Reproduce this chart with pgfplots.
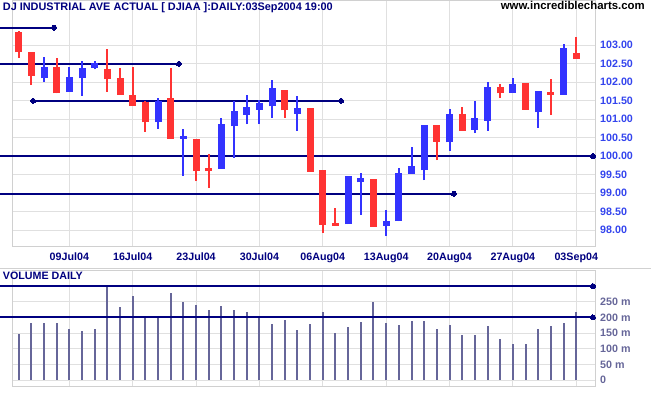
\documentclass[border=0pt]{standalone}
\usepackage{pgfplots}
\pgfplotsset{compat=1.18}
\usepackage{pgfplotstable}
\usepackage{fontspec}
\setmainfont{Liberation Sans}
\definecolor{cred}{HTML}{FF3333}
\definecolor{cblue}{HTML}{3333FF}
\definecolor{navy}{HTML}{000080}
\definecolor{vcol}{HTML}{666699}
\definecolor{gridc}{HTML}{E0E0E0}
\definecolor{edgec}{HTML}{D0D0D0}
\definecolor{plab}{HTML}{3344EE}
\newcommand{\lf}{\bfseries\fontsize{10.7}{12}\selectfont}

% up (blue) candles: trading-day index n (0 = 02Jul04)
\pgfplotstableread{
n  o      h      l      c
2  102.10 102.68 102.01 102.41
4  101.74 102.41 101.74 102.14
5  102.10 102.57 101.63 102.39
6  102.39 102.57 102.34 102.50
11 100.91 101.58 100.73 101.49
13 100.46 100.73 99.47  100.53
16 99.65  101.02 99.65  100.87
17 100.80 101.49 99.95  101.22
18 101.11 101.65 100.86 101.32
19 101.25 101.50 100.86 101.43
20 101.34 102.05 101.03 101.85
22 101.14 101.63 100.68 101.29
26 98.16  99.46  98.16  99.46
27 99.29  99.55  98.41  99.40
29 98.11  98.54  97.85  98.24
30 98.24  99.67  98.24  99.55
31 99.52  100.24 99.52  99.74
32 99.61  100.84 99.35  100.84
34 100.37 101.27 100.14 101.13
36 100.71 101.49 100.62 101.02
37 100.95 102.00 100.68 101.86
39 101.71 102.11 101.71 101.95
41 101.18 101.76 100.77 101.76
43 101.65 103.03 101.65 102.93
}\up

% down (red) candles
\pgfplotstableread{
n  o      h      l      c
0  103.36 103.38 102.66 102.80
1  102.81 102.81 101.92 102.17
3  102.41 102.65 101.69 101.69
7  102.34 102.89 101.74 102.07
8  102.10 102.38 101.65 101.65
9  101.65 102.41 101.36 101.36
10 101.45 101.49 100.66 100.91
12 101.58 102.39 100.46 100.46
14 100.46 100.46 99.32  99.59
15 99.68  100.05 99.14  99.59
21 101.78 101.78 101.03 101.23
23 101.29 101.29 99.58  99.58
24 99.62  99.62  97.92  98.14
25 98.19  98.60  98.12  98.12
28 99.38  99.38  98.09  98.09
33 100.84 100.84 99.89  100.39
35 101.13 101.32 100.68 100.68
38 101.86 101.95 101.58 101.69
40 101.97 101.97 101.25 101.25
42 101.73 102.08 101.11 101.66
44 102.79 103.22 102.62 102.62
}\down

% daily volume (millions)
\pgfplotstableread{
n v
0 147
1 182
2 182
3 182
4 163
5 156
6 163
7 300
8 233
9 268
10 198
11 198
12 278
13 249
14 239
15 223
16 236
17 223
18 217
19 198
20 179
21 191
22 160
23 179
24 217
25 150
26 169
27 185
28 249
29 182
30 176
31 188
32 188
33 163
34 176
35 144
36 144
37 172
38 131
39 115
40 115
41 163
42 172
43 182
44 217
}\vol

\begin{document}
\begin{tikzpicture}
\fill[white] (0pt,0pt) rectangle (651pt,395pt);
\path[use as bounding box] (0pt,0pt) rectangle (651pt,395pt);
\draw[color=black!18, line width=1.2pt] (0pt,126.5pt) -- (651pt,126.5pt);

\begin{axis}[
  at={(12.7pt,149pt)}, anchor=south west, scale only axis,
  width=582.3pt, height=246pt,
  xmin=-0.47, xmax=45.48, ymin=97.568, ymax=104.216,
  clip=false,
  axis line style={draw=edgec, line width=0.8pt},
  grid=major, grid style={draw=gridc, line width=0.8pt},
  major tick length=0pt,
  xtick={4,9,14,19,24,29,34,39,44},
  xticklabels={09Jul04,16Jul04,23Jul04,30Jul04,06Aug04,13Aug04,20Aug04,27Aug04,03Sep04},
  ytick={98,98.5,99,99.5,100,100.5,101,101.5,102,102.5,103},
  yticklabel pos=right,
  tick label style={font=\lf},
  xticklabel style={anchor=north, inner sep=0pt, yshift=-7pt, text=navy},
  yticklabel style={anchor=west, inner sep=0pt, xshift=5pt, text=plab},
  /pgf/number format/fixed, /pgf/number format/fixed zerofill,
  /pgf/number format/precision=2, /pgf/number format/assume math mode=true,
]
% support / resistance lines
\addplot[navy, line width=2pt, mark=none] coordinates {(-1.467,103.47) (2.79,103.47)};
\addplot[navy, line width=2pt, mark=none] coordinates {(-1.467,102.49) (12.65,102.49)};
\addplot[navy, line width=2pt, mark=none] coordinates {(1.136,101.49) (25.44,101.49)};
\addplot[navy, line width=2pt, mark=none] coordinates {(-1.467,100.0) (45.32,100.0)};
\addplot[navy, line width=2pt, mark=none] coordinates {(-1.467,98.98) (34.35,98.98)};
\addplot[only marks, mark=*, mark size=2.5pt, mark options={draw=navy, fill=navy, line width=0pt}]
  coordinates {(2.79,103.47) (12.65,102.49) (1.136,101.49) (25.44,101.49) (45.32,100.0) (34.35,98.98)};
% wicks
\addplot[draw=cblue, line width=2pt, quiver={u=0, v=\thisrow{h}-\thisrow{l}}] table[x=n, y=l] {\up};
\addplot[draw=cred, line width=2pt, quiver={u=0, v=\thisrow{h}-\thisrow{l}}] table[x=n, y=l] {\down};
% bodies
\addplot[draw=cblue, line width=7pt, quiver={u=0, v=\thisrow{c}-\thisrow{o}}] table[x=n, y=o] {\up};
\addplot[draw=cred, line width=7pt, quiver={u=0, v=\thisrow{o}-\thisrow{c}}] table[x=n, y=c] {\down};
\end{axis}

\begin{axis}[
  at={(12.7pt,8.3pt)}, anchor=south west, scale only axis,
  width=582.3pt, height=116.7pt,
  xmin=-0.47, xmax=45.48, ymin=-21.4, ymax=351.4,
  clip=false,
  axis line style={draw=edgec, line width=0.8pt},
  grid=major, grid style={draw=gridc, line width=0.8pt},
  major tick length=0pt,
  xtick={4,9,14,19,24,29,34,39,44},
  xticklabels={},
  ytick={0,50,100,150,200,250},
  yticklabels={0,50 m,100 m,150 m,200 m,250 m},
  yticklabel pos=right,
  tick label style={font=\lf},
  yticklabel style={anchor=west, inner sep=0pt, xshift=5pt, text=vcol},
]
\addplot[ycomb, draw=vcol, line width=2pt, mark=none] table[x=n, y=v] {\vol};
\addplot[navy, line width=2pt, mark=none] coordinates {(-1.467,300) (45.32,300)};
\addplot[navy, line width=2pt, mark=none] coordinates {(-1.467,200) (45.32,200)};
\addplot[only marks, mark=*, mark size=2.5pt, mark options={draw=navy, fill=navy, line width=0pt}]
  coordinates {(45.32,300) (45.32,200)};
\end{axis}

\node[anchor=base west, inner sep=0pt, text=navy, font=\bfseries\fontsize{10.9}{12}\selectfont] at (2.7pt,384.3pt)
  {DJ INDUSTRIAL AVE ACTUAL [ DJIAA ]:DAILY:03Sep2004 19:00};
\node[anchor=base east, inner sep=0pt, font=\bfseries\fontsize{11.4}{13}\selectfont] at (645pt,385pt)
  {www.incrediblecharts.com};
\node[anchor=base west, inner sep=0pt, text=navy, font=\lf] at (2.7pt,115pt) {VOLUME DAILY};
\end{tikzpicture}
\end{document}
